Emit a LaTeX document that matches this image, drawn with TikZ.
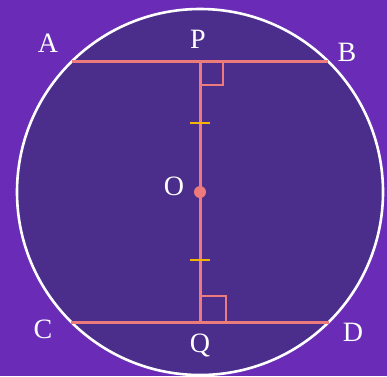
\documentclass[tikz,border=0pt]{standalone}
\usepackage{fontspec}
\setmainfont{Liberation Serif}
\definecolor{bgpurple}{HTML}{6A2CB6}
\definecolor{diskpurple}{HTML}{4B2D8C}
\definecolor{chordpink}{HTML}{EE7B7B}
\definecolor{tickorange}{HTML}{F5B400}
\tikzstyle{lbl} = [text=white, font=\fontsize{28}{28}\selectfont, inner sep=0pt]
\tikzstyle{chord} = [draw=chordpink, line width=3pt]
\tikzstyle{rtmark} = [draw=chordpink, line width=2pt]
\tikzstyle{tick} = [draw=tickorange, line width=2.8pt]

\begin{document}
\begin{tikzpicture}[x=1pt, y=-1pt]
\fill[bgpurple] (0,0) rectangle (387,376);
\useasboundingbox (0,0) rectangle (387,376);
% circle
\coordinate (O) at (200,192);
\draw[white, line width=2.6pt, fill=diskpurple] (O) circle[radius=183];
% chord ends
\coordinate (A) at (72,61);
\coordinate (B) at (328,61);
\coordinate (C) at (71,322);
\coordinate (D) at (329,322);
\coordinate (P) at (200,61);
\coordinate (Q) at (200,322);
\coordinate (t1) at (200,123);
\coordinate (t2) at (200,260);
% chords and PQ
\draw[chord] (A) -- (B);
\draw[chord] (C) -- (D);
\draw[chord] (P) -- (Q);
% right angles
\draw[rtmark] ([xshift=23pt]P) |- ([yshift=-24pt]P);
\draw[rtmark] ([xshift=26pt]Q) |- ([yshift=26pt]Q);
% equal marks
\draw[tick] ([xshift=-10pt]t1) -- ([xshift=10pt]t1);
\draw[tick] ([xshift=-10pt]t2) -- ([xshift=10pt]t2);
% centre
\fill[chordpink] (O) circle[radius=6];
% labels
\node[lbl] (lA) at (48,43) {A};
\node[lbl] (lP) at (198,39) {P};
\node[lbl] (lB) at (347,52) {B};
\node[lbl] (lO) at (174,186) {O};
\node[lbl] (lC) at (43,329) {C};
\node[lbl] (lQ) at (200,345) {Q};
\node[lbl] (lD) at (353,332) {D};
\end{tikzpicture}
\end{document}
